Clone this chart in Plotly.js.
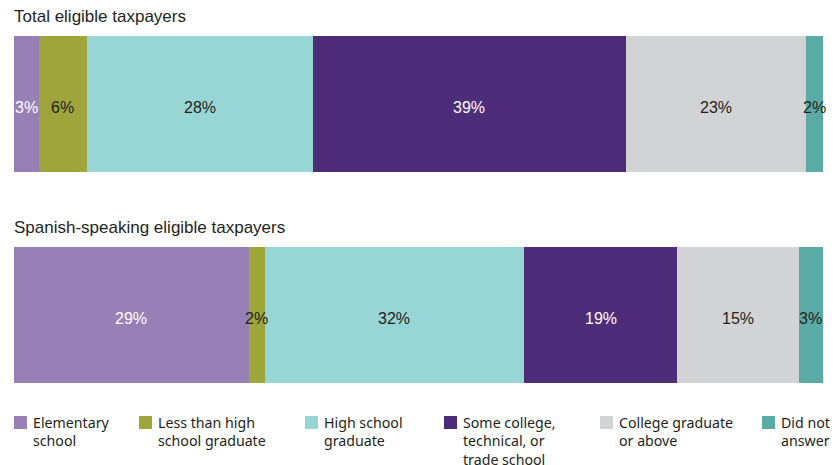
<!DOCTYPE html>
<html>
<head>
<meta charset="utf-8">
<script src="https://cdn.plot.ly/plotly-3.0.1.min.js"></script>
<style>html,body{margin:0;padding:0;background:#fff;}#chart{width:837px;height:465px;}</style>
</head>
<body>
<div id="chart"></div>
<script>
// ---- data ----
const categories = ["Elementary school", "Less than high school graduate", "High school graduate",
  "Some college, technical, or trade school", "College graduate or above", "Did not answer"];
const legendLines = [["Elementary", "school"], ["Less than high", "school graduate"], ["High school", "graduate"],
  ["Some college,", "technical, or", "trade school"], ["College graduate", "or above"], ["Did not", "answer"]];
const groups = ["Total eligible taxpayers", "Spanish-speaking eligible taxpayers"];
// segment sizes as measured from the bars
const totalValues = [3.1, 5.9, 27.9, 38.7, 22.3, 2.1];
const spanishValues = [29, 2, 32, 19, 15, 3];
// printed labels
const totalLabels = ["3%", "6%", "28%", "39%", "23%", "2%"];
const spanishLabels = ["29%", "2%", "32%", "19%", "15%", "3%"];

// ---- styles ----
const colors = ["#9680b5", "#9ea53a", "#98d6d6", "#4d2c7a", "#d2d3d5", "#5aaba5"];
const textColors = ["#ffffff", "#231f20", "#231f20", "#ffffff", "#231f20", "#231f20"];
const W = 837, H = 465;
const M = {l: 14, r: 14, t: 36, b: 82};
const plotH = H - M.t - M.b;
const plotW = W - M.l - M.r;
const px2x = x => (x - M.l) / plotW;
const px2y = y => (H - M.b - y) / plotH;

const seriesSets = [totalValues, spanishValues];
const labelSets = [totalLabels, spanishLabels];
const traces = [];
const annotations = [];
seriesSets.forEach((vals, gi) => {
  let cum = 0;
  vals.forEach((v, ci) => {
    traces.push({
      type: "bar", orientation: "h",
      x: [v], y: [groups[gi]],
      xaxis: gi === 0 ? "x" : "x2", yaxis: gi === 0 ? "y" : "y2",
      marker: {color: colors[ci], line: {width: 0}},
      hoverinfo: "skip", showlegend: false, name: categories[ci]
    });
    annotations.push({
      text: labelSets[gi][ci], xref: gi === 0 ? "x" : "x2", yref: gi === 0 ? "y" : "y2",
      x: cum + v / 2, y: groups[gi], xanchor: "center", yanchor: "middle", yshift: -3,
      showarrow: false,
      font: {family: "Liberation Sans, Arial, sans-serif", size: 16, color: textColors[ci]}
    });
    cum += v;
  });
});

const sum = a => a.reduce((s, v) => s + v, 0);
const topBottomPx = 172, botTopPx = 247;
const layout = {
  width: W, height: H, margin: M, barmode: "stack", bargap: 0,
  paper_bgcolor: "#fff", plot_bgcolor: "#fff", showlegend: false,
  xaxis: {domain: [0, 1], range: [0, sum(totalValues)], visible: false, fixedrange: true, anchor: "y"},
  xaxis2: {domain: [0, 1], range: [0, sum(spanishValues)], visible: false, fixedrange: true, anchor: "y2"},
  yaxis: {domain: [px2y(topBottomPx), 1], range: [-0.5, 0.5], visible: false, anchor: "x"},
  yaxis2: {domain: [0, px2y(botTopPx)], range: [-0.5, 0.5], visible: false, anchor: "x2"},
  shapes: [], annotations: annotations
};

// group titles
const titleY = [17, 228];
groups.forEach((g, i) => {
  layout.annotations.push({
    text: g, xref: "paper", yref: "paper", x: px2x(12), y: px2y(titleY[i]),
    xanchor: "left", yanchor: "middle", showarrow: false,
    font: {family: "Liberation Sans, Arial, sans-serif", size: 17, color: "#231f20"}
  });
});

// custom legend
const legX = [14, 139, 305, 444, 600, 762];
categories.forEach((c, i) => {
  layout.shapes.push({
    type: "rect", xref: "paper", yref: "paper",
    x0: px2x(legX[i]), x1: px2x(legX[i] + 13), y0: px2y(416), y1: px2y(429),
    fillcolor: colors[i], line: {width: 0}
  });
  layout.annotations.push({
    text: legendLines[i].join("<br>"), xref: "paper", yref: "paper",
    x: px2x(legX[i] + 18), y: px2y(412), xanchor: "left", yanchor: "top", align: "left",
    showarrow: false, borderpad: 0,
    font: {family: "Noto Sans, Open Sans, sans-serif", size: 14.2, color: "#231f20"}
  });
});

Plotly.newPlot("chart", traces, layout, {displayModeBar: false, staticPlot: true});
</script>
</body>
</html>
